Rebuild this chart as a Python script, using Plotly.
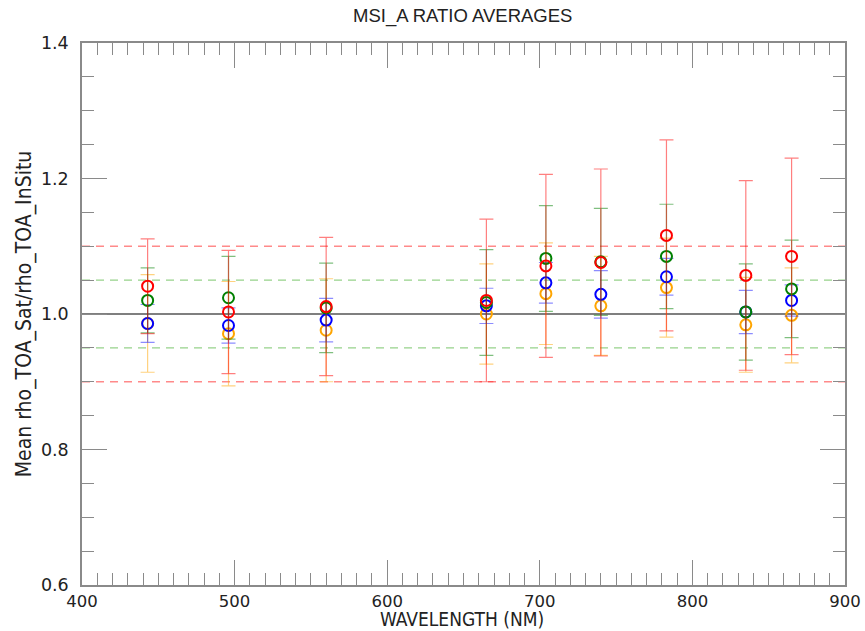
import plotly.graph_objects as go

# Band centre wavelengths (nm) for the MSI_A bands
wavelengths = [443, 496, 560, 665, 704, 740, 783, 835, 865]

# Mean ratio per band and its spread, one list pair per matchup group
red_mean = [1.041, 1.003, 1.011, 1.020, 1.071, 1.076, 1.116, 1.057, 1.085]
red_err = [0.070, 0.091, 0.102, 0.120, 0.135, 0.138, 0.141, 0.140, 0.145]

green_mean = [1.020, 1.024, 1.009, 1.017, 1.082, 1.077, 1.085, 1.003, 1.037]
green_err = [0.048, 0.061, 0.066, 0.078, 0.078, 0.079, 0.077, 0.071, 0.072]

blue_mean = [0.986, 0.983, 0.991, 1.012, 1.046, 1.029, 1.055, 1.003, 1.020]
blue_err = [0.028, 0.026, 0.032, 0.026, 0.030, 0.035, 0.027, 0.032, 0.023]

orange_mean = [0.986, 0.971, 0.976, 1.000, 1.030, 1.012, 1.039, 0.984, 0.998]
orange_err = [0.072, 0.077, 0.076, 0.074, 0.075, 0.073, 0.073, 0.070, 0.070]

x_ticks = [400, 500, 600, 700, 800, 900]
y_ticks = [0.6, 0.8, 1.0, 1.2, 1.4]

# Reference levels: unity, +/-5 % and +/-10 %
unity = 1.0
band_5 = [0.95, 1.05]
band_10 = [0.90, 1.10]

series = [
    ("orange", orange_mean, orange_err, "#ffa500", "rgba(255,165,0,0.5)"),
    ("blue", blue_mean, blue_err, "#0000ff", "rgba(0,0,255,0.45)"),
    ("green", green_mean, green_err, "#008000", "rgba(0,128,0,0.5)"),
    ("red", red_mean, red_err, "#ff0000", "rgba(255,0,0,0.5)"),
]

fig = go.Figure()
for name, mean, err, col, ecol in series:
    fig.add_trace(go.Scatter(
        x=wavelengths, y=mean, mode="markers", name=name,
        marker=dict(symbol="circle-open", size=11, color=col,
                    line=dict(width=2, color=col)),
        error_y=dict(type="data", array=err, visible=True,
                     color=ecol, thickness=1.2, width=7),
        showlegend=False,
    ))

shapes = []
for yv in band_10:
    shapes.append(dict(type="line", xref="paper", x0=0, x1=1, yref="y", y0=yv, y1=yv,
                       line=dict(color="rgba(255,60,60,0.6)", width=1.3, dash="8px,6px"),
                       layer="below"))
for yv in band_5:
    shapes.append(dict(type="line", xref="paper", x0=0, x1=1, yref="y", y0=yv, y1=yv,
                       line=dict(color="rgba(80,180,60,0.6)", width=1.3, dash="8px,6px"),
                       layer="below"))
shapes.append(dict(type="line", xref="paper", x0=0, x1=1, yref="y", y0=unity, y1=unity,
                   line=dict(color="#555555", width=1.5), layer="below"))

axis_col = "#8a8a8a"
ytick_font = dict(family="DejaVu Sans", size=17.5, color="#222222")
xtick_font = dict(family="DejaVu Sans", size=16.5, color="#222222")
title_font = dict(family="DejaVu Sans Condensed, DejaVu Sans", size=21, color="#222222")
xtitle_font = dict(family="DejaVu Sans Condensed, DejaVu Sans", size=19, color="#222222")

fig.update_layout(
    width=865, height=631,
    margin=dict(l=82, r=20, t=43, b=46, pad=0),
    paper_bgcolor="white", plot_bgcolor="white",
    shapes=shapes,
    title=dict(text="MSI_A RATIO AVERAGES", x=0.535, xanchor="center",
               y=0.975, yanchor="middle",
               font=dict(family="Liberation Sans, Arial", size=18.5, color="#222222")),
    annotations=[dict(
        text="WAVELENGTH (NM)", xref="paper", yref="paper",
        x=0.498, y=-0.0625, xanchor="center", yanchor="middle",
        showarrow=False, font=xtitle_font, borderpad=0,
    )],
    xaxis=dict(
        range=[400, 900], tickvals=x_ticks, ticktext=[str(v) for v in x_ticks],
        showgrid=False, zeroline=False, automargin=False,
        showline=True, linecolor=axis_col, linewidth=1.5, mirror="allticks",
        ticks="inside", ticklen=25, tickwidth=1, tickcolor=axis_col,
        minor=dict(ticks="inside", dtick=10, ticklen=12, tickwidth=1, tickcolor=axis_col),
        tickfont=xtick_font, ticklabelstandoff=0,
    ),
    yaxis=dict(
        range=[0.6, 1.4], tickvals=y_ticks, ticktext=[f"{v:.1f}" for v in y_ticks],
        showgrid=False, zeroline=False, automargin=False,
        showline=True, linecolor=axis_col, linewidth=1.5, mirror="allticks",
        ticks="inside", ticklen=25, tickwidth=1, tickcolor=axis_col,
        minor=dict(ticks="inside", dtick=0.05, ticklen=12, tickwidth=1, tickcolor=axis_col),
        tickfont=ytick_font, ticklabelstandoff=8,
        title=dict(text="Mean rho_TOA_Sat/rho_TOA_InSitu", font=title_font, standoff=4),
    ),
)

fig.write_html("out.html")
